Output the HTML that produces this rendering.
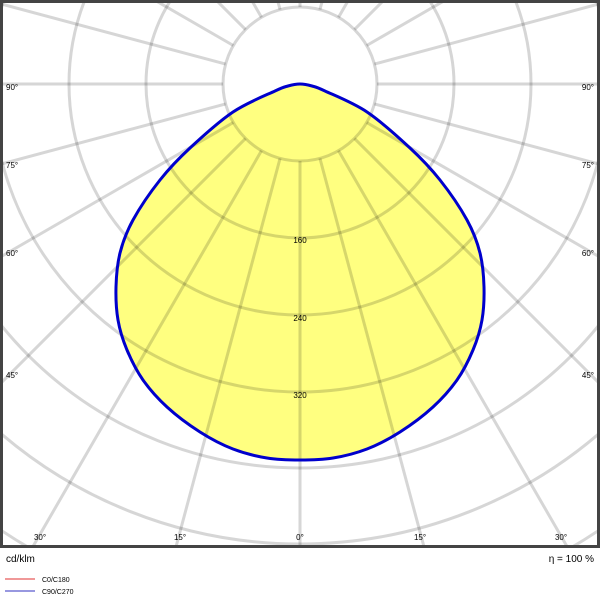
<!DOCTYPE html>
<html><head><meta charset="utf-8"><style>
html,body{margin:0;padding:0;background:#fff;width:600px;height:600px;overflow:hidden;}
svg{display:block;font-family:"Liberation Sans",Arial,sans-serif;}
</style></head><body>
<svg width="600" height="600" viewBox="0 0 600 600" xmlns="http://www.w3.org/2000/svg">
<defs><clipPath id="c"><rect x="2" y="2" width="596" height="545"/></clipPath></defs>
<rect width="600" height="600" fill="#fff"/>
<g clip-path="url(#c)">
<path id="fill" d="" fill="#ffff80"/>
<g stroke="rgba(0,0,0,0.16)" stroke-width="3" fill="none">
<circle cx="300" cy="84" r="77"/><circle cx="300" cy="84" r="154"/><circle cx="300" cy="84" r="231"/><circle cx="300" cy="84" r="308"/><circle cx="300" cy="84" r="384"/><circle cx="300" cy="84" r="460"/><circle cx="300" cy="84" r="537"/><circle cx="300" cy="84" r="614"/>
</g>
<g stroke="rgba(0,0,0,0.16)" stroke-width="3" id="spokes"></g>
<path id="line" d="" fill="none" stroke="#0000cc" stroke-width="3"/>
</g>
<rect x="1.5" y="1.5" width="597" height="545" fill="none" stroke="#444" stroke-width="3"/>
<g font-size="8" fill="#000">
<text x="6" y="90">90°</text><text x="6" y="168">75°</text><text x="6" y="256">60°</text><text x="6" y="378">45°</text>
<text x="594" y="90" text-anchor="end">90°</text><text x="594" y="168" text-anchor="end">75°</text><text x="594" y="256" text-anchor="end">60°</text><text x="594" y="378" text-anchor="end">45°</text>
<text x="40" y="540" text-anchor="middle">30°</text><text x="180" y="540" text-anchor="middle">15°</text><text x="300" y="540" text-anchor="middle">0°</text><text x="420" y="540" text-anchor="middle">15°</text><text x="561" y="540" text-anchor="middle">30°</text>
<text x="300" y="243" text-anchor="middle">160</text><text x="300" y="321" text-anchor="middle">240</text><text x="300" y="398" text-anchor="middle">320</text>
</g>
<text x="6" y="562" font-size="10">cd/klm</text>
<text x="594" y="562" font-size="10" text-anchor="end">η = 100 %</text>
<line x1="5" y1="579" x2="35" y2="579" stroke="#e03030" stroke-width="1"/>
<line x1="5" y1="591" x2="35" y2="591" stroke="#3030c0" stroke-width="1"/>
<text x="42" y="582" font-size="7">C0/C180</text>
<text x="42" y="594" font-size="7">C90/C270</text>
</svg>
<script>
var g=document.getElementById('spokes');
for(var a=0;a<360;a+=15){var t=a*Math.PI/180;var x1=300+77*Math.sin(t),y1=84+77*Math.cos(t),x2=300+900*Math.sin(t),y2=84+900*Math.cos(t);
var l=document.createElementNS('http://www.w3.org/2000/svg','line');l.setAttribute('x1',x1);l.setAttribute('y1',y1);l.setAttribute('x2',x2);l.setAttribute('y2',y2);g.appendChild(l);}
var R=[[300,84],[312,86],[325,91],[367,112],[410,148],[440,180],[467,220],[480,253],[484,287],[482,320],[473,350],[457,380],[433,407],[400,432],[367,449],[333,458],[300,460]];
var P=R.slice();for(var i=R.length-2;i>=1;i--)P.push([600-R[i][0],R[i][1]]);
var n=P.length,d='M'+P[0][0]+','+P[0][1];
for(var i=0;i<n;i++){var p0=P[(i-1+n)%n],p1=P[i],p2=P[(i+1)%n],p3=P[(i+2)%n];
var c1=[p1[0]+(p2[0]-p0[0])/6,p1[1]+(p2[1]-p0[1])/6],c2=[p2[0]-(p3[0]-p1[0])/6,p2[1]-(p3[1]-p1[1])/6];
d+=' C'+c1[0].toFixed(1)+','+c1[1].toFixed(1)+' '+c2[0].toFixed(1)+','+c2[1].toFixed(1)+' '+p2[0]+','+p2[1];}
d+='Z';document.getElementById('fill').setAttribute('d',d);document.getElementById('line').setAttribute('d',d);
</script>
</body></html>
